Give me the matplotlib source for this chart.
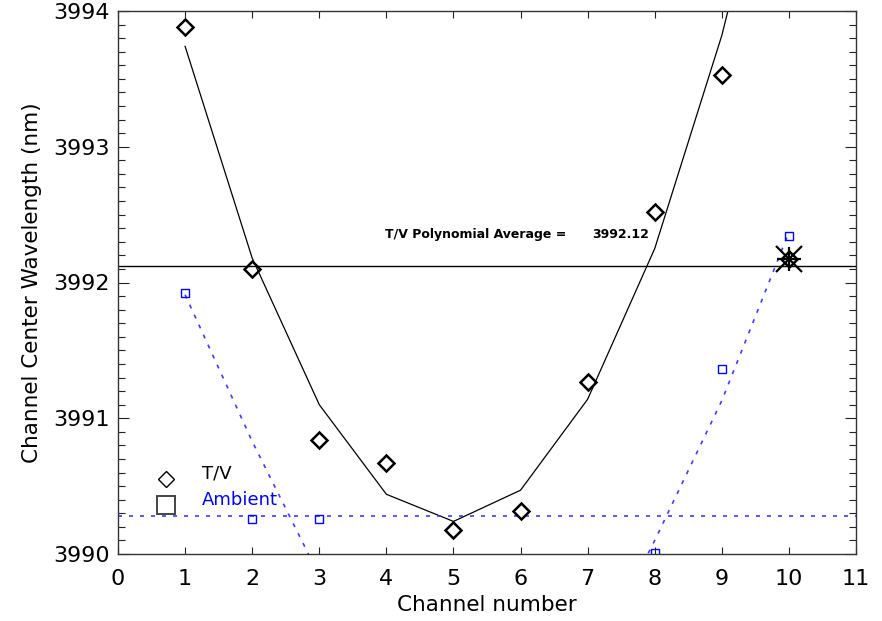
import matplotlib
matplotlib.use("Agg")
import matplotlib.pyplot as plt
from matplotlib.ticker import MultipleLocator, FixedLocator

# Channel center wavelengths (nm) measured in thermal-vacuum (T/V) and ambient conditions
channels = [1, 2, 3, 4, 5, 6, 7, 8, 9, 10]
tv_center = [3993.88, 3992.10, 3990.84, 3990.67, 3990.18,
             3990.32, 3991.27, 3992.52, 3993.53, 3992.17]
tv_fit = [3993.74, 3992.18, 3991.10, 3990.44, 3990.24,
          3990.47, 3991.14, 3992.25, 3993.82, 3995.80]
tv_average = 3992.12

ambient_channels = [1, 2, 3, 8, 9, 10]
ambient_center = [3991.92, 3990.26, 3990.26, 3990.01, 3991.36, 3992.34]
ambient_fit = [3991.91, 3990.83, 3989.84, 3989.10, 3988.75,
               3988.80, 3989.12, 3990.10, 3991.13, 3992.37]
ambient_average = 3990.28

rejected_channel = 10
x_ticks = list(range(0, 12))
y_ticks = [3990, 3991, 3992, 3993, 3994]

W, H = 882, 621
fig = plt.figure(figsize=(W / 100, H / 100), dpi=100)
ax = fig.add_axes([118 / W, 1 - 554 / H, 738 / W, 543 / H])
ax.set_xlim(0, 11)
ax.set_ylim(3990, 3994)

blue_line = "#3c3cff"
dots = (0, (2.4, 4.2))

# fitted curves and averages
ax.plot(channels, tv_fit, color="black", lw=0.9)
ax.axhline(tv_average, color="black", lw=1.0)
ax.plot(channels, ambient_fit, color=blue_line, lw=1.2, ls=dots)
ax.axhline(ambient_average, color=blue_line, lw=1.2, ls=dots)

# measured centers
ax.plot(channels, tv_center, ls="none", marker="D", ms=8.5,
        mfc="none", mec="black", mew=1.8)
ax.plot(ambient_channels, ambient_center, ls="none", marker="s", ms=6,
        mfc="none", mec="#0000ff", mew=1.0)

# channel excluded from the T/V average
rej_val = tv_center[channels.index(rejected_channel)]
ax.plot(rejected_channel, rej_val, marker="x", ms=19, mew=1.6, color="black")
ax.plot(rejected_channel, rej_val, marker="+", ms=17, mew=1.6, color="black")

# average annotation
ax.text(0.362, 0.589, "T/V Polynomial Average =", transform=ax.transAxes,
        ha="left", va="center", fontsize=9, fontweight="bold")
ax.text(0.642, 0.589, f"{tv_average:.2f}", transform=ax.transAxes,
        ha="left", va="center", fontsize=9, fontweight="bold")

# key
ax.plot([0.065], [0.138], transform=ax.transAxes, marker="D", ms=8.5,
        mfc="none", mec="black", mew=1.0, clip_on=False)
ax.plot([0.065], [0.090], transform=ax.transAxes, marker="s", ms=12.5,
        mfc="none", mec="#444444", mew=1.4, clip_on=False)
ax.text(0.114, 0.149, "T/V", transform=ax.transAxes, ha="left",
        va="center", fontsize=13, color="black")
ax.text(0.114, 0.0995, "Ambient", transform=ax.transAxes, ha="left",
        va="center", fontsize=13, color="#0000ff")

# axes styling
ax.xaxis.set_major_locator(FixedLocator(x_ticks))
ax.yaxis.set_major_locator(FixedLocator(y_ticks))
ax.yaxis.set_minor_locator(MultipleLocator(0.1))
ax.tick_params(axis="both", which="both", direction="in", top=True, right=True,
               width=0.8, color="#222222")
ax.tick_params(axis="x", which="major", length=5, pad=11, labelsize=16)
ax.tick_params(axis="y", which="major", length=8, pad=6, labelsize=16)
ax.tick_params(axis="y", which="minor", length=5)
ax.set_yticklabels([str(v) for v in y_ticks])
for s in ax.spines.values():
    s.set_linewidth(1.0)
    s.set_color("#333333")

ax.set_xlabel("Channel number", fontsize=15.5, labelpad=4)
ax.set_ylabel("Channel Center Wavelength (nm)", fontsize=15.5, labelpad=8)

fig.savefig("out.png", dpi=100)
